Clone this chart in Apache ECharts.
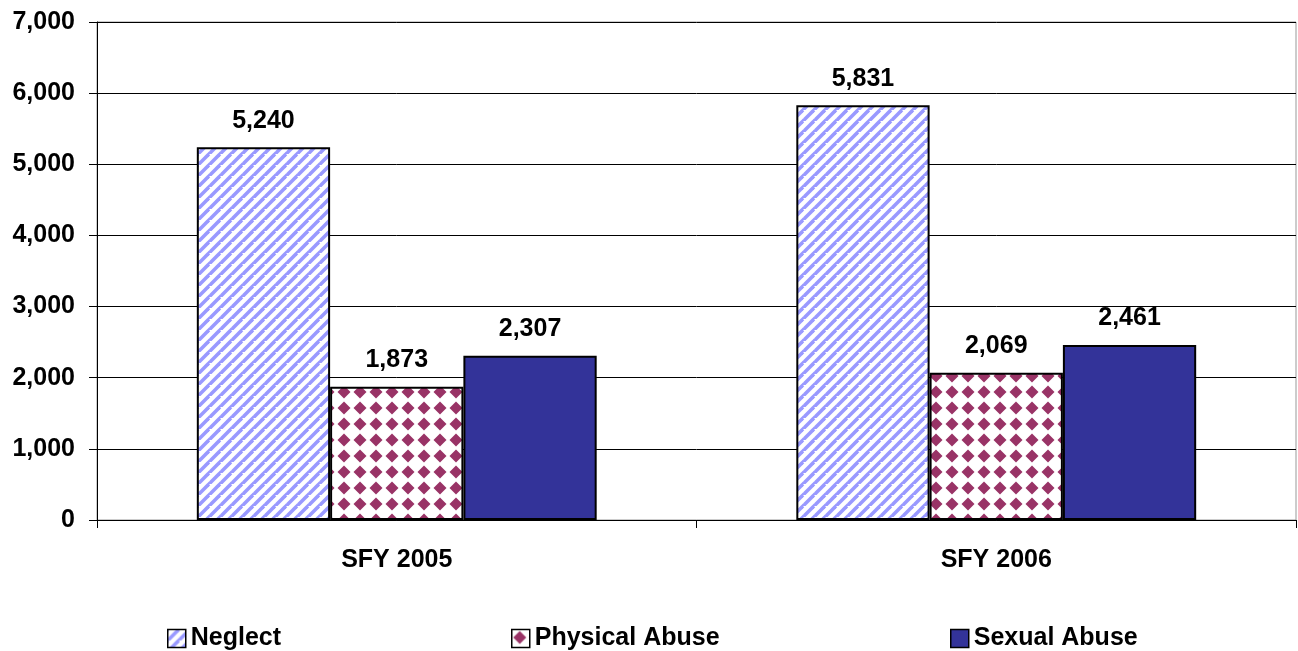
<!DOCTYPE html>
<html><head><meta charset="utf-8">
<script src="https://cdn.jsdelivr.net/npm/echarts@6/dist/echarts.min.js"></script>
<style>html,body{margin:0;padding:0;background:#fff}#c{width:1298px;height:651px}</style>
</head><body><div id="c"></div>
<script>
const categories = ['SFY 2005', 'SFY 2006'];
const neglect = [5240, 5831];
const physicalAbuse = [1873, 2069];
const sexualAbuse = [2307, 2461];
const seriesNames = ['Neglect', 'Physical Abuse', 'Sexual Abuse'];
const yTicks = [0, 1000, 2000, 3000, 4000, 5000, 6000, 7000];

function stripePattern() {
  const s = 11;
  const c = document.createElement('canvas');
  c.width = s; c.height = s;
  const g = c.getContext('2d');
  g.fillStyle = '#ffffff'; g.fillRect(0, 0, s, s);
  g.strokeStyle = '#9999ff'; g.lineWidth = 3.6;
  for (let k = -2; k <= 2; k++) {
    g.beginPath(); g.moveTo(k * s - s, 2 * s); g.lineTo(k * s + s, 0); g.stroke();
  }
  return c;
}
function diamondPattern() {
  const c = document.createElement('canvas');
  c.width = 16; c.height = 16;
  const g = c.getContext('2d');
  g.fillStyle = '#ffffff'; g.fillRect(0, 0, 16, 16);
  g.fillStyle = '#993366';
  g.beginPath(); g.moveTo(8, 1.5); g.lineTo(14.5, 8); g.lineTo(8, 14.5); g.lineTo(1.5, 8); g.closePath(); g.fill();
  return c;
}
const fmt = v => Number(v).toLocaleString('en-US');
const font = 'Liberation Sans, Arial, sans-serif';

const chart = echarts.init(document.getElementById('c'), null, {renderer: 'canvas'});
const label = {show: true, position: 'top', distance: 14, fontFamily: font, fontWeight: 'bold', fontSize: 25, color: '#000', formatter: p => fmt(p.value)};
const colors = [
  {image: stripePattern(), repeat: 'repeat'},
  {image: diamondPattern(), repeat: 'repeat'},
  '#333399'
];
const dataSets = [neglect, physicalAbuse, sexualAbuse];
const legendX = [162, 506, 945];
chart.setOption({
  animation: false,
  backgroundColor: '#fff',
  grid: {left: 97, right: 2, top: 22, bottom: 131, show: true, borderColor: '#999', borderWidth: 1, backgroundColor: 'transparent'},
  legend: seriesNames.map((n, i) => ({
    data: [n], left: legendX[i], top: 621, itemWidth: 18, itemHeight: 18, itemGap: 5, icon: 'rect',
    itemStyle: {borderColor: '#000', borderWidth: 1.5},
    textStyle: {fontFamily: font, fontWeight: 'bold', fontSize: 25, color: '#000'},
    selectedMode: false
  })),
  xAxis: {
    type: 'category', data: categories,
    axisLine: {lineStyle: {color: '#000', width: 1}},
    axisTick: {show: true, length: 8, lineStyle: {color: '#000'}},
    axisLabel: {fontFamily: font, fontWeight: 'bold', fontSize: 25, color: '#000', margin: 28}
  },
  yAxis: {
    type: 'value', min: 0, max: 7000, interval: 1000,
    axisLine: {show: true, lineStyle: {color: '#000', width: 1}},
    axisTick: {show: true, length: 8, lineStyle: {color: '#000'}},
    splitLine: {show: true, lineStyle: {color: '#000', width: 1}},
    axisLabel: {fontFamily: font, fontWeight: 'bold', fontSize: 25, color: '#000', margin: 22, formatter: v => fmt(v)}
  },
  series: seriesNames.map((n, i) => ({
    name: n, type: 'bar', data: dataSets[i],
    barGap: '0%', barCategoryGap: '33.3%',
    itemStyle: {color: colors[i], borderColor: '#000', borderWidth: 2},
    label: label
  }))
});
</script></body></html>
